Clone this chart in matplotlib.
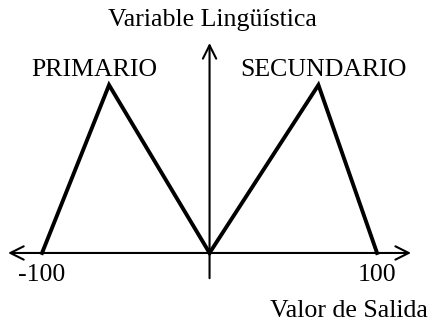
import matplotlib
matplotlib.use("Agg")
import matplotlib.pyplot as plt

# membership functions (x: output value, y: degree)
prim_x = [-100, -60, 0]
prim_y = [0, 1, 0]
sec_x = [0, 65, 100]
sec_y = [0, 1, 0]
tick_vals = [-100, 100]
tick_labels = ["-100", "100"]

plt.rcParams['font.family'] = ['Liberation Serif', 'DejaVu Serif']

fig = plt.figure(figsize=(4.35, 3.21), dpi=100)
ax = fig.add_axes([0, 0, 1, 1])
ax.set_xlim(-125.1, 134.6)
ax.set_ylim(-0.405, 1.506)
ax.axis("off")

# axes with arrows
ax.annotate("", xy=(120.3, 0), xytext=(-120.3, 0),
            arrowprops=dict(arrowstyle="<->", lw=1.5, color="black",
                            mutation_scale=24, shrinkA=0, shrinkB=0))
ax.annotate("", xy=(0, 1.25), xytext=(0, -0.15),
            arrowprops=dict(arrowstyle="->", lw=1.5, color="black",
                            mutation_scale=24, shrinkA=0, shrinkB=0))

ax.plot(prim_x, prim_y, color="black", lw=2.8, solid_joinstyle="miter")
ax.plot(sec_x, sec_y, color="black", lw=2.8, solid_joinstyle="miter")

fs = 18.6
for v, lab in zip(tick_vals, tick_labels):
    ax.text(v, -0.13, lab, ha="center", va="center", fontsize=fs)

ax.text(83, -0.345, "Valor de Salida", ha="center", va="center", fontsize=fs)
ax.text(1.5, 1.385, "Variable Lingüística", ha="center", va="center", fontsize=fs)
ax.text(-69, 1.09, "PRIMARIO", ha="center", va="center", fontsize=fs)
ax.text(68, 1.09, "SECUNDARIO", ha="center", va="center", fontsize=fs)

fig.savefig("out.png", dpi=100)
